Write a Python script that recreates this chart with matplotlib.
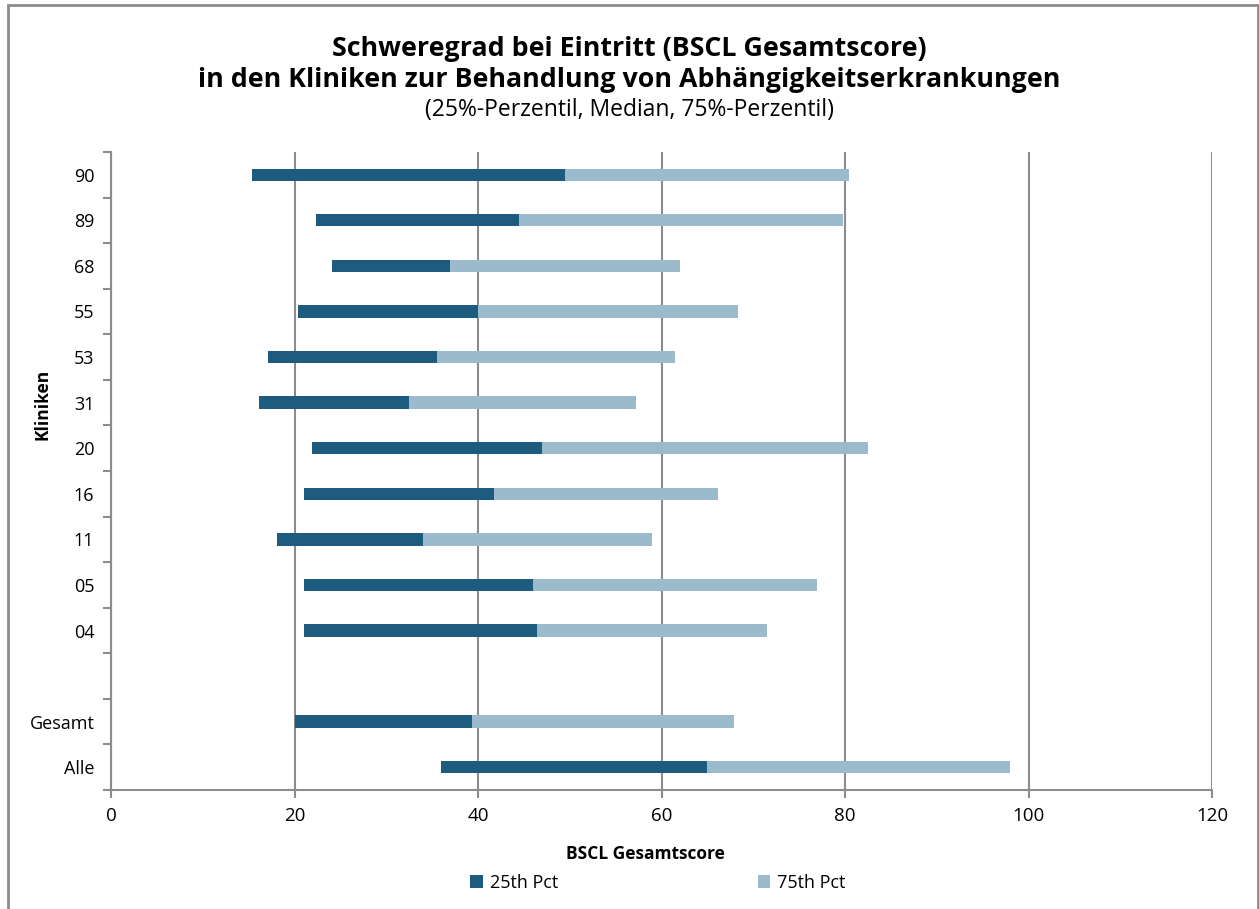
import matplotlib.pyplot as plt
from matplotlib.patches import Rectangle
import numpy as np

plt.rcParams['font.family'] = ['Open Sans', 'DejaVu Sans']

# Daten (von oben nach unten)
kliniken = ["90", "89", "68", "55", "53", "31", "20", "16", "11", "05", "04", "", "Gesamt", "Alle"]
p25 = [15.4, 22.3, 24.1, 20.4, 17.1, 16.1, 21.9, 21.0, 18.1, 21.0, 21.0, np.nan, 20.1, 36.0]
median = [49.5, 44.5, 36.9, 40.0, 35.5, 32.5, 47.0, 41.7, 34.0, 46.0, 46.4, np.nan, 39.3, 65.0]
p75 = [80.4, 79.8, 62.0, 68.3, 61.5, 57.2, 82.5, 66.2, 59.0, 76.9, 71.5, np.nan, 67.9, 98.0]

dunkel = "#1d5c7f"
hell = "#9bbbcc"
grau = "#8c8c8c"

p25 = np.array(p25)
median = np.array(median)
p75 = np.array(p75)
y = np.arange(len(kliniken))

fig = plt.figure(figsize=(12.59, 9.09), dpi=100)
ax = fig.add_axes([0.0882, 0.1309, 0.8745, 0.7019])

h = 0.27
ax.barh(y, median - p25, left=p25, height=h, color=dunkel, label="25th Pct", zorder=3)
ax.barh(y, p75 - median, left=median, height=h, color=hell, label="75th Pct", zorder=3)

ax.set_xlim(0, 120)
ax.set_ylim(len(kliniken) - 0.5, -0.5)
ax.set_xticks(np.arange(0, 121, 20))
ax.set_yticks(y)
ax.set_yticklabels(kliniken)
ax.set_yticks(np.arange(-0.5, len(kliniken), 1), minor=True)
ax.tick_params(axis='y', which='major', length=0, pad=12, labelsize=13)
ax.tick_params(axis='y', which='minor', length=6, width=1.5, color=grau)
ax.tick_params(axis='x', which='major', length=6, width=1.5, color=grau, labelsize=13.5, pad=6)

ax.grid(axis='x', color=grau, linewidth=1.5, zorder=0)
for s in ['top', 'right']:
    ax.spines[s].set_visible(False)
for s in ['left', 'bottom']:
    ax.spines[s].set_color(grau)
    ax.spines[s].set_linewidth(1.5)

fig.text(0.513, 0.061, "BSCL Gesamtscore", ha='center', va='center', fontsize=12.5, fontweight='bold')
fig.text(0.034, 0.555, "Kliniken", rotation=90, ha='center', va='center', fontsize=12.5, fontweight='bold')

fig.text(0.5, 0.929, "Schweregrad bei Eintritt (BSCL Gesamtscore)\nin den Kliniken zur Behandlung von Abhängigkeitserkrankungen",
         ha='center', va='center', fontsize=19.3, fontweight='bold', linespacing=1.25)
fig.text(0.5, 0.879, "(25%-Perzentil, Median, 75%-Perzentil)", ha='center', va='center', fontsize=16.5)

fig.legend(loc='center', bbox_to_anchor=(0.5225, 0.029), ncol=2, frameon=False, fontsize=13,
           handlelength=0.7, handleheight=0.7, handletextpad=0.4, columnspacing=11.05)

# Rahmen um das Diagramm
fig.patches.append(Rectangle((0.006, -0.01), 0.993, 1.005, transform=fig.transFigure,
                             fill=False, edgecolor=grau, linewidth=2))

plt.savefig("out.png", dpi=100)
